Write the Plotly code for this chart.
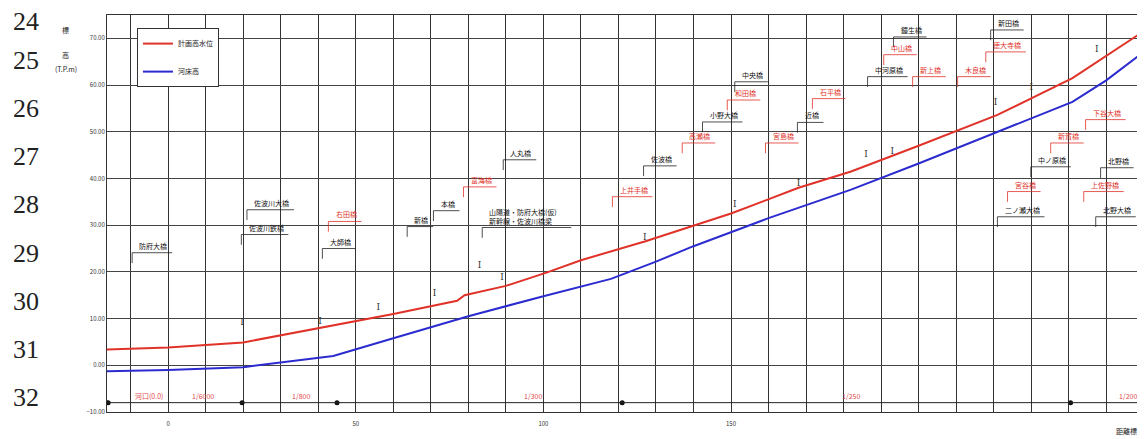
import plotly.graph_objects as go

# ---------------- data ----------------
# distance (x, same units as the axis) and elevations (T.P.m)
red_x = [-16.3, 0, 20, 40, 60, 77, 79, 90, 101, 110, 127, 150, 168, 182, 200, 221, 231, 241, 259]
red_y = [3.4, 3.8, 4.9, 8.0, 11.0, 13.8, 15.0, 17.0, 19.9, 22.5, 26.5, 32.5, 38.0, 41.5, 47.0, 53.6, 57.5, 61.5, 71.0]

blue_x = [-16.3, 0, 20, 35, 44, 60, 80, 100, 118, 130, 140, 160, 182, 200, 221, 241, 250, 259]
blue_y = [-1.3, -1.0, -0.4, 1.0, 2.0, 5.8, 10.5, 14.8, 18.5, 22.2, 25.5, 31.5, 37.6, 43.2, 50.0, 56.4, 61.0, 66.5]

# high-water marks
hw_x = [19.7, 40.5, 56, 71, 83, 89, 127, 151, 168, 186, 193, 220.5, 230, 247.5]
hw_y = [9.2, 9.4, 12.4, 15.4, 21.4, 18.8, 27.4, 34.4, 38.9, 45.0, 45.7, 56.2, 59.4, 67.5]

# bridges
bridge_names = ["防府大橋", "佐波川大橋", "佐波川鉄橋", "右田橋", "大師橋", "新橋", "本橋", "富海橋",
                "人丸橋", "山陽道・防府大橋(仮)<br>新幹線・佐波川橋梁", "上井手橋", "佐波橋", "高瀬橋",
                "小野大橋", "和田橋", "中央橋", "宮島橋", "近橋", "石平橋", "中河原橋", "中山橋",
                "鐘生橋", "新上橋", "木良橋", "新田橋", "徳大寺橋", "下谷大橋", "新賀橋", "中ノ原橋",
                "北野橋", "宮谷橋", "上佐野橋", "二ノ瀬大橋", "北野大橋"]
bridge_x = [-9.6, 21.0, 19.5, 42.7, 41.1, 63.7, 70.7, 78.7, 89.3, 83.7, 118.4, 126.7, 137.0,
            142.4, 149.0, 151.0, 159.2, 167.7, 171.7, 186.4, 190.7, 193.3, 198.4, 210.4, 219.2,
            217.9, 244.5, 235.2, 229.9, 248.5, 223.7, 244.0, 221.0, 247.2]
bridge_y = [24.1, 33.3, 28.0, 30.8, 25.0, 29.7, 33.1, 38.2, 44.0, 29.5, 36.1, 42.7, 47.6,
            52.1, 56.8, 60.7, 47.6, 52.0, 57.1, 61.8, 66.5, 70.3, 61.8, 61.8, 71.8,
            67.1, 52.6, 47.6, 42.5, 42.3, 37.2, 37.2, 31.8, 31.8]
bridge_red = [False, False, False, True, False, False, False, True,
              False, False, True, False, True,
              False, True, False, True, False, True, False, True,
              False, True, True, False, True, True, True, False,
              False, True, True, False, False]

# bed-slope change points and labels
grad_pts_x = [-16, 19.7, 45, 121, 240.5]
grad_label_x = [-9.3, 5.9, 32.5, 94.4, 179, 253]
grad_labels = ["河口(0.0)", "1/6000", "1/800", "1/300", "1/250", "1/200"]
GRAD_Y = -8

x_tickvals = [0, 50, 100, 150]
x_ticktext = ["0", "50", "100", "150"]

line_numbers = list(range(24, 33))

# ---------------- figure ----------------
RED = "#e03228"
BLUE = "#2b2bd0"
fig = go.Figure()

fig.add_trace(go.Scatter(x=red_x, y=red_y, mode="lines", name="計画高水位",
                         line=dict(color=RED, width=2), legendgroup="a"))
fig.add_trace(go.Scatter(x=blue_x, y=blue_y, mode="lines", name="河床高",
                         line=dict(color=BLUE, width=2), legendgroup="b"))

fig.add_trace(go.Scatter(x=hw_x, y=hw_y, mode="text", text=["I"] * len(hw_x),
                         textfont=dict(family="DejaVu Serif", size=9, color="#333"),
                         showlegend=False, hoverinfo="skip"))

# bridge leader lines
PX_PER_X = 3.75
for is_red in (False, True):
    lx, ly = [], []
    for n, bx, by, r in zip(bridge_names, bridge_x, bridge_y, bridge_red):
        if r != is_red:
            continue
        first = n.split("<br>")[0]
        w = (len(first) * 7.0 + 12) / PX_PER_X
        lx += [bx, bx, bx + w, None]
        ly += [by - 2.2, by, by, None]
    fig.add_trace(go.Scatter(x=lx, y=ly, mode="lines",
                             line=dict(color=RED if is_red else "#222", width=0.8),
                             showlegend=False, hoverinfo="skip"))

annotations = []
for n, bx, by, r in zip(bridge_names, bridge_x, bridge_y, bridge_red):
    annotations.append(dict(x=bx + 1.4, y=by, text=n, showarrow=False,
                            xanchor="left", yanchor="bottom", align="left",
                            font=dict(family="Noto Sans CJK JP", size=7,
                                      color=RED if r else "#111")))

# slope line and labels
fig.add_trace(go.Scatter(x=grad_pts_x, y=[GRAD_Y] * len(grad_pts_x), mode="markers",
                         marker=dict(color="#111", size=5, symbol="circle"),
                         showlegend=False, hoverinfo="skip"))
for gx, gt in zip(grad_label_x, grad_labels):
    annotations.append(dict(x=gx, y=GRAD_Y, text=gt, showarrow=False, xanchor="left",
                            yanchor="bottom", font=dict(family="Noto Sans CJK JP", size=7,
                                                        color="#e04848")))

# layout geometry in page pixels (page body has an 8px margin)
OFF = 8
PLOT_T, PLOT_B, PLOT_L, PLOT_R = 15, 412, 107, 1140
FIG_W, FIG_H = 1145 - OFF, 439 - OFF


def ypap(py):
    return (PLOT_B - py) / (PLOT_B - PLOT_T)


def xpap(px):
    return (px - PLOT_L) / (PLOT_R - PLOT_L)


for txt, py in [("標", 30), ("高", 55), ("(T.P.m)", 69)]:
    annotations.append(dict(xref="paper", yref="paper", x=xpap(66), y=ypap(py), text=txt,
                            xanchor="center", yanchor="middle", showarrow=False,
                            font=dict(family="Noto Sans CJK JP", size=7, color="#222")))
annotations.append(dict(xref="paper", yref="paper", x=xpap(1126), y=ypap(431), text="距離標",
                        xanchor="center", yanchor="middle", showarrow=False,
                        font=dict(family="Noto Sans CJK JP", size=7, color="#222")))

# page line numbers at left
for i, ln in enumerate(line_numbers):
    cy = max(12 + 48.2 * i, 21)
    annotations.append(dict(xref="paper", yref="paper", x=xpap(26), y=ypap(cy),
                            text=str(ln), showarrow=False, xanchor="center", yanchor="middle",
                            font=dict(family="Liberation Serif", size=26, color="#222")))

shapes = [dict(type="line", xref="paper", x0=0, x1=1, yref="y", y0=GRAD_Y, y1=GRAD_Y,
               line=dict(color="#222", width=1))]

fig.update_layout(
    width=FIG_W, height=FIG_H,
    margin=dict(l=PLOT_L - OFF, r=FIG_W - (PLOT_R - OFF), t=PLOT_T - OFF, b=FIG_H - (PLOT_B - OFF)),
    paper_bgcolor="white", plot_bgcolor="white",
    annotations=annotations, shapes=shapes,
    legend=dict(x=0.029, y=0.967, xanchor="left", yanchor="top",
                bordercolor="#333", borderwidth=1, bgcolor="white",
                font=dict(family="Noto Sans CJK JP", size=7, color="#222"),
                tracegroupgap=9, itemwidth=30),
    font=dict(family="Noto Sans CJK JP"),
)
fig.update_xaxes(range=[-16.3, 259], tickvals=x_tickvals, ticktext=x_ticktext,
                 showgrid=True, gridcolor="#333", gridwidth=1,
                 minor=dict(dtick=10, tick0=0, showgrid=True, gridcolor="#333", gridwidth=1),
                 showline=True, linecolor="#333", linewidth=1, mirror=True,
                 zeroline=False, tickfont=dict(size=6, color="#333"), ticklabelstandoff=6)
fig.update_yaxes(range=[-10, 75], dtick=10, tick0=0, tickformat=".2f",
                 showgrid=True, gridcolor="#444", gridwidth=1.2,
                 showline=True, linecolor="#333", linewidth=1, mirror=True,
                 zeroline=False, tickfont=dict(size=6, color="#333"))

fig.write_html("out.html")
